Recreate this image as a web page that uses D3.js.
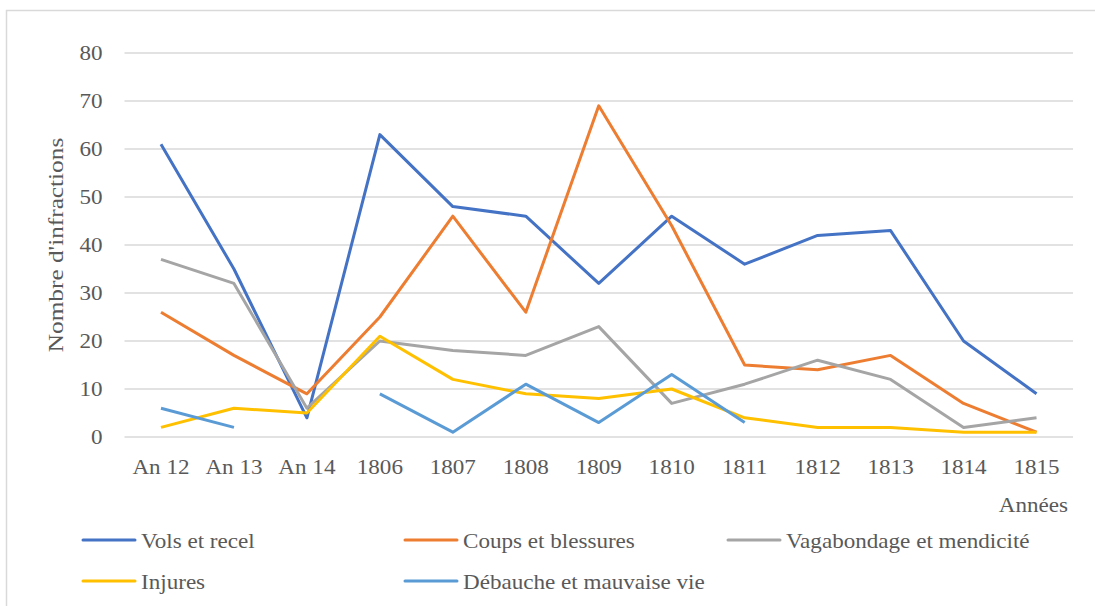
<!DOCTYPE html>
<html>
<head>
<meta charset="utf-8">
<script src="https://cdn.jsdelivr.net/npm/d3@7"></script>
<style>
  body { margin: 0; background: #fff; }
</style>
</head>
<body>
<svg id="chart" width="1095" height="606"></svg>
<script>
const categories = ["An 12", "An 13", "An 14", "1806", "1807", "1808", "1809", "1810", "1811", "1812", "1813", "1814", "1815"];
const volsEtRecel = [61, 35, 4, 63, 48, 46, 32, 46, 36, 42, 43, 20, 9];
const coupsEtBlessures = [26, 17, 9, 25, 46, 26, 69, 44, 15, 14, 17, 7, 1];
const vagabondage = [37, 32, 6, 20, 18, 17, 23, 7, 11, 16, 12, 2, 4];
const injures = [2, 6, 5, 21, 12, 9, 8, 10, 4, 2, 2, 1, 1];
const debauche = [6, 2, null, 9, 1, 11, 3, 13, 3, null, null, null, null];
const yTicks = [0, 10, 20, 30, 40, 50, 60, 70, 80];

const series = [
  { name: "Vols et recel", values: volsEtRecel, color: "#4472C4" },
  { name: "Coups et blessures", values: coupsEtBlessures, color: "#ED7D31" },
  { name: "Vagabondage et mendicité", values: vagabondage, color: "#A5A5A5" },
  { name: "Injures", values: injures, color: "#FFC000" },
  { name: "Débauche et mauvaise vie", values: debauche, color: "#5B9BD5" }
];

const FONT = "Liberation Serif";
const TEXT_COLOR = "#595959";
const STRETCH = "scale(1.1,1)"; // the original text is a bit wide

const svg = d3.select("#chart");
const plotLeft = 124.5, plotRight = 1073, plotTop = 53, plotBottom = 437;

// chart area border
svg.append("path")
  .attr("d", "M6.5,606 V10.5 H1095")
  .attr("fill", "none")
  .attr("stroke", "#D9D9D9")
  .attr("stroke-width", 1.5);

const x = d3.scaleBand().domain(categories).range([plotLeft, plotRight]);
const y = d3.scaleLinear().domain([0, 80]).range([plotBottom, plotTop]);

// gridlines
svg.append("g")
  .selectAll("line")
  .data(yTicks)
  .join("line")
  .attr("x1", plotLeft)
  .attr("x2", plotRight)
  .attr("y1", d => y(d))
  .attr("y2", d => y(d))
  .attr("stroke", "#D9D9D9")
  .attr("stroke-width", 1.3);

// y axis labels
const yAxis = d3.axisLeft(y).tickValues(yTicks).tickSize(0).tickPadding(0);
svg.append("g")
  .attr("transform", `translate(102.5,0)`)
  .call(yAxis)
  .call(g => g.select(".domain").remove())
  .selectAll("text")
  .attr("x", 0)
  .attr("dy", "0.33em")
  .attr("transform", STRETCH)
  .style("font-family", FONT)
  .style("font-size", "21px")
  .style("fill", TEXT_COLOR);

// x axis labels
const xAxis = d3.axisBottom(x).tickSize(0).tickPadding(0);
svg.append("g")
  .attr("transform", `translate(0,${plotBottom + 30})`)
  .call(xAxis)
  .call(g => g.select(".domain").remove())
  .selectAll("text")
  .attr("y", 0)
  .attr("dy", "0.33em")
  .attr("transform", STRETCH)
  .style("font-family", FONT)
  .style("font-size", "21px")
  .style("fill", TEXT_COLOR);

// axis titles
svg.append("text")
  .attr("transform", "translate(63,245) rotate(-90) scale(1.15,1)")
  .attr("text-anchor", "middle")
  .style("font-family", FONT)
  .style("font-size", "22px")
  .style("fill", TEXT_COLOR)
  .text("Nombre d'infractions");

svg.append("text")
  .attr("transform", `translate(1068,511.5) ${STRETCH}`)
  .attr("text-anchor", "end")
  .style("font-family", FONT)
  .style("font-size", "21px")
  .style("fill", TEXT_COLOR)
  .text("Années");

// lines
const line = d3.line()
  .defined(d => d.v !== null)
  .x(d => x(d.c) + x.bandwidth() / 2)
  .y(d => y(d.v));

svg.append("g")
  .selectAll("path")
  .data(series)
  .join("path")
  .attr("fill", "none")
  .attr("stroke", d => d.color)
  .attr("stroke-width", 3)
  .attr("stroke-linejoin", "round")
  .attr("d", d => line(d.values.map((v, i) => ({ c: categories[i], v: v }))));

// legend
const legendPos = [[83, 540], [405, 540], [728, 540], [83, 581], [405, 581]];
const legend = svg.append("g")
  .selectAll("g")
  .data(series)
  .join("g")
  .attr("transform", (d, i) => `translate(${legendPos[i][0]},${legendPos[i][1]})`);

legend.append("line")
  .attr("x1", 0)
  .attr("x2", 52)
  .attr("stroke", d => d.color)
  .attr("stroke-width", 3)
  .attr("stroke-linecap", "round");

legend.append("text")
  .attr("transform", `translate(58,7.5) ${STRETCH}`)
  .style("font-family", FONT)
  .style("font-size", "21px")
  .style("fill", TEXT_COLOR)
  .text(d => d.name);
</script>
</body>
</html>
